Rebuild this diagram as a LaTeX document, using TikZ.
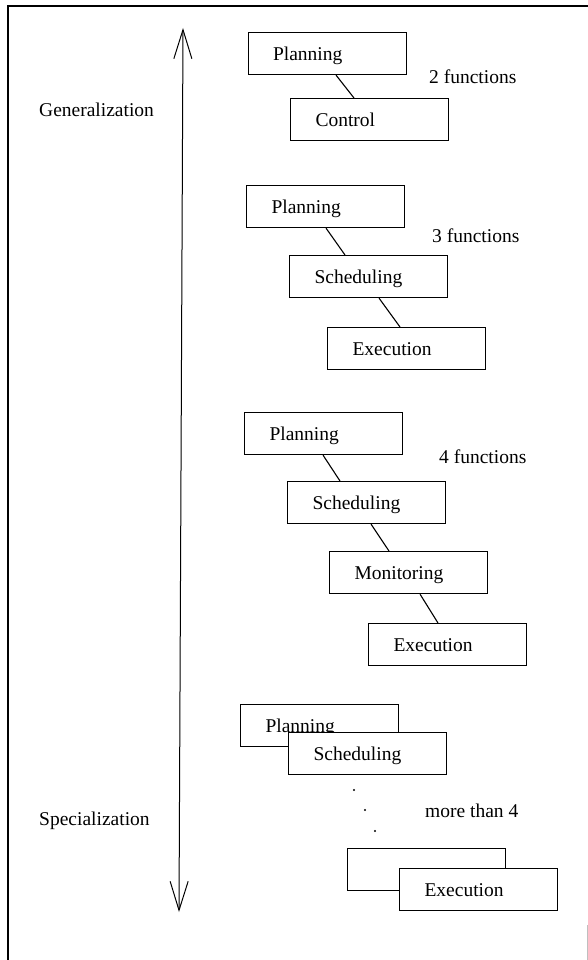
\documentclass[tikz,border=0pt]{standalone}
\usepackage{fontspec}
\setmainfont{Liberation Serif}
\usetikzlibrary{arrows.meta}

\tikzset{
  txt/.style={font=\fontsize{19.5}{23}\selectfont},
  fn/.style={txt, draw, fill=white, line width=1.1pt, anchor=north west,
    inner xsep=25pt, inner ysep=0pt, text width=108pt,
    text height=27.5pt, text depth=14.5pt, align=left},
  link/.style={line width=1.1pt},
  lbl/.style={txt, anchor=base west, inner sep=0pt},
  axis/.style={line width=1pt,
    {Straight Barb[length=29pt,width=18pt]}-{Straight Barb[length=29pt,width=18pt]}}
}

\begin{document}
\begin{tikzpicture}[x=1pt,y=-1pt]
\useasboundingbox (0,0) rectangle (588,960);

% frame
\draw[line width=1.2pt] (8,960) -- (8,6) -- (588,6);
\draw[line width=0.6pt, black!25] (587,925) -- (587,960);

% generalization / specialization axis
\coordinate (up) at (183,28);
\coordinate (down) at (179,912);
\draw[axis] (up) -- (down);
\node[lbl] (gen) at (39,117) {Generalization};
\node[lbl] (spec) at (39,825) {Specialization};

% two functions
\node[fn] (p1) at (247.5,32) {Planning};
\node[fn] (c1) at (290,98) {Control};
\draw[link] ([xshift=88.5pt]p1.south west) -- ([xshift=64pt]c1.north west);
\node[lbl] (n2) at (429,84) {2 functions};

% three functions
\node[fn] (p2) at (246,185) {Planning};
\node[fn] (s2) at (289,255) {Scheduling};
\node[fn] (e2) at (327,327) {Execution};
\draw[link] ([xshift=80pt]p2.south west) -- ([xshift=56pt]s2.north west);
\draw[link] ([xshift=90pt]s2.south west) -- ([xshift=73pt]e2.north west);
\node[lbl] (n3) at (432,242) {3 functions};

% four functions
\node[fn] (p3) at (244,412) {Planning};
\node[fn] (s3) at (287,481) {Scheduling};
\node[fn] (m3) at (329,551) {Monitoring};
\node[fn] (e3) at (368,623) {Execution};
\draw[link] ([xshift=79pt]p3.south west) -- ([xshift=53pt]s3.north west);
\draw[link] ([xshift=84pt]s3.south west) -- ([xshift=60pt]m3.north west);
\draw[link] ([xshift=91pt]m3.south west) -- ([xshift=70pt]e3.north west);
\node[lbl] (n4) at (439,463) {4 functions};

% more than four functions
\node[fn] (p4) at (240,704) {Planning};
\node[fn] (s4) at (288,732) {Scheduling};
\fill (354,790) circle (1.1pt);
\fill (365,810) circle (1.1pt);
\fill (375,831) circle (1.1pt);
\node[lbl] (n5) at (425,817) {more than 4};
\node[fn] (x4) at (347,848) {};
\node[fn] (e4) at (399,868) {Execution};
\end{tikzpicture}
\end{document}
